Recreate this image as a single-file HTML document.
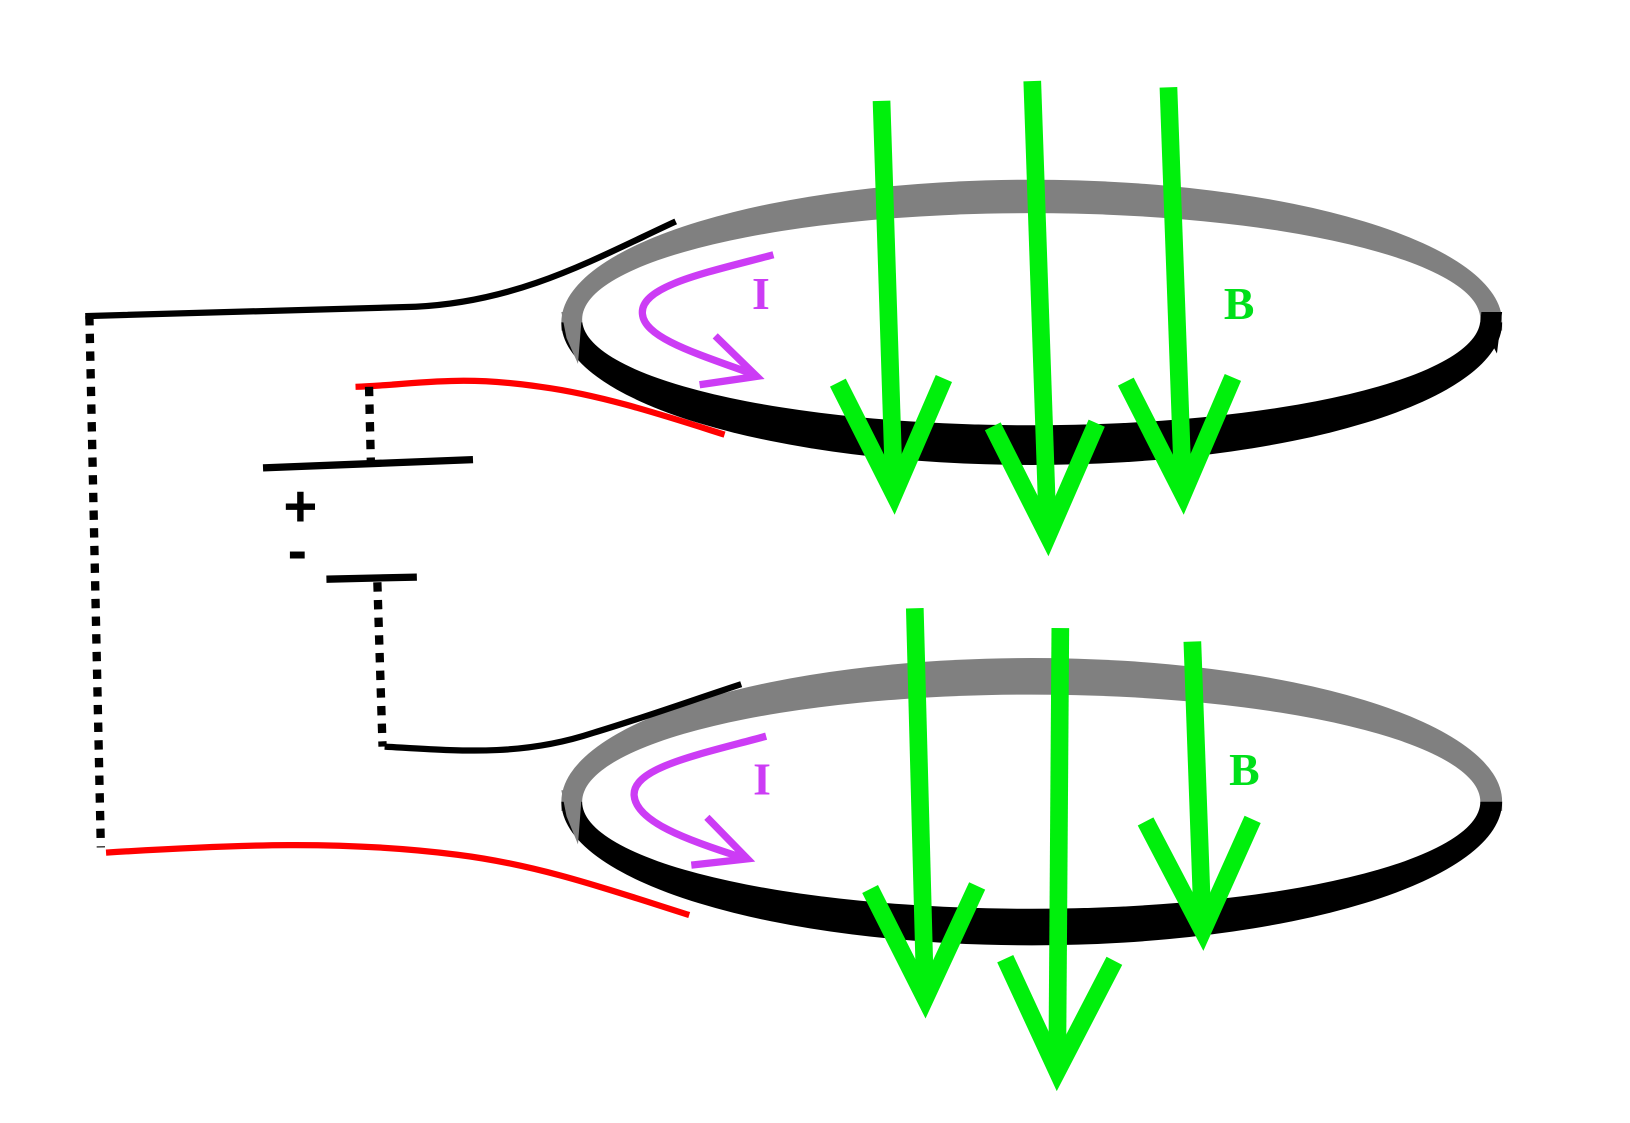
<!DOCTYPE html>
<html><head><meta charset="utf-8"><style>
html,body{margin:0;padding:0;background:#fff;}
svg{display:block;}
</style></head><body>
<svg width="1630" height="1123" viewBox="0 0 1568 1080" preserveAspectRatio="none">
<rect width="1568" height="1080" fill="#fff"/>

<g>
 <path d="M540,310 A452,137 0 0 1 1445,310 L1445,318 L540,318 Z" fill="#808080"/>
 <path d="M1445,310 A452,137 0 0 1 540,310 Z" fill="#000"/>
 <path d="M540,300 L560,300 L556,350 L545,325 Z" fill="#808080"/>
 <path d="M1425,300 L1445,300 L1440,340 L1424,310 Z" fill="#000"/>
 <ellipse cx="992" cy="307" rx="432" ry="102" fill="#fff"/>
</g>

<g>
 <path d="M540,771 A452,138 0 0 1 1445,771 L1445,780 L540,780 Z" fill="#808080"/>
 <path d="M1445,771 A452,138 0 0 1 540,771 Z" fill="#000"/>
 <path d="M540,760 L560,760 L556,812 L545,785 Z" fill="#808080"/>
 <ellipse cx="992" cy="771" rx="432" ry="103" fill="#fff"/>
</g>

<g fill="none" stroke-width="6">
 <path d="M82,304 L400,295 C500,290 570,250 650,213" stroke="#000"/>
 <path d="M342,372 C400,370 440,360 520,372 C580,380 640,400 697,418" stroke="#f00"/>
 <path d="M370,718 C440,722 500,728 570,705 C620,690 670,672 713,658" stroke="#000"/>
 <path d="M102,820 C230,812 330,808 440,822 C520,832 590,857 663,880" stroke="#f00"/>
 <path d="M86,304 L97,815" stroke="#000" stroke-width="8" stroke-dasharray="9 8"/>
 <path d="M355,372 L357,455" stroke="#000" stroke-width="8" stroke-dasharray="9 8"/>
 <path d="M363,560 L368,718" stroke="#000" stroke-width="8" stroke-dasharray="9 8"/>
 <path d="M253,450 L455,442" stroke="#000" stroke-width="7"/>
 <path d="M314,557 L401,555" stroke="#000" stroke-width="7"/>
</g>
<text x="289" y="506" font-family="Liberation Sans, sans-serif" font-weight="bold" font-size="56" text-anchor="middle">+</text>
<text x="286" y="548" font-family="Liberation Sans, sans-serif" font-weight="bold" font-size="56" text-anchor="middle">-</text>

<g fill="none" stroke="#00f00c" stroke-width="17">
 <path d="M848,97 L860,470"/>
 <path d="M806,368 L860,475 L908,364"/>
 <path d="M993,78 L1008,515"/>
 <path d="M955,410 L1008,515 L1055,407"/>
 <path d="M1124,84 L1138,470"/>
 <path d="M1083,367 L1138,475 L1186,363"/>
 <path d="M880,585 L890,960"/>
 <path d="M837,855 L890,960 L940,852"/>
 <path d="M1020,604 L1017,1030"/>
 <path d="M967,922 L1017,1030 L1072,924"/>
 <path d="M1147,617 L1157,895"/>
 <path d="M1102,790 L1157,895 L1205,788"/>
</g>

<g fill="none" stroke="#cc3cf5" stroke-width="7">
 <path d="M744,245 C680,262 615,275 618,302 C620,325 670,340 725,360"/>
 <path d="M688,323 L728,362 L673,370"/>
 <path d="M737,708 C675,725 608,738 610,765 C612,790 660,808 718,826"/>
 <path d="M680,786 L719,826 L665,832"/>
</g>
<text x="732" y="297" font-family="Liberation Serif, serif" font-weight="bold" font-size="44" fill="#cc3cf5" text-anchor="middle">I</text>
<text x="733" y="764" font-family="Liberation Serif, serif" font-weight="bold" font-size="44" fill="#cc3cf5" text-anchor="middle">I</text>
<text x="1192" y="307" font-family="Liberation Serif, serif" font-weight="bold" font-size="44" fill="#00e01a" text-anchor="middle">B</text>
<text x="1197" y="755" font-family="Liberation Serif, serif" font-weight="bold" font-size="44" fill="#00e01a" text-anchor="middle">B</text>
</svg>
</body></html>
